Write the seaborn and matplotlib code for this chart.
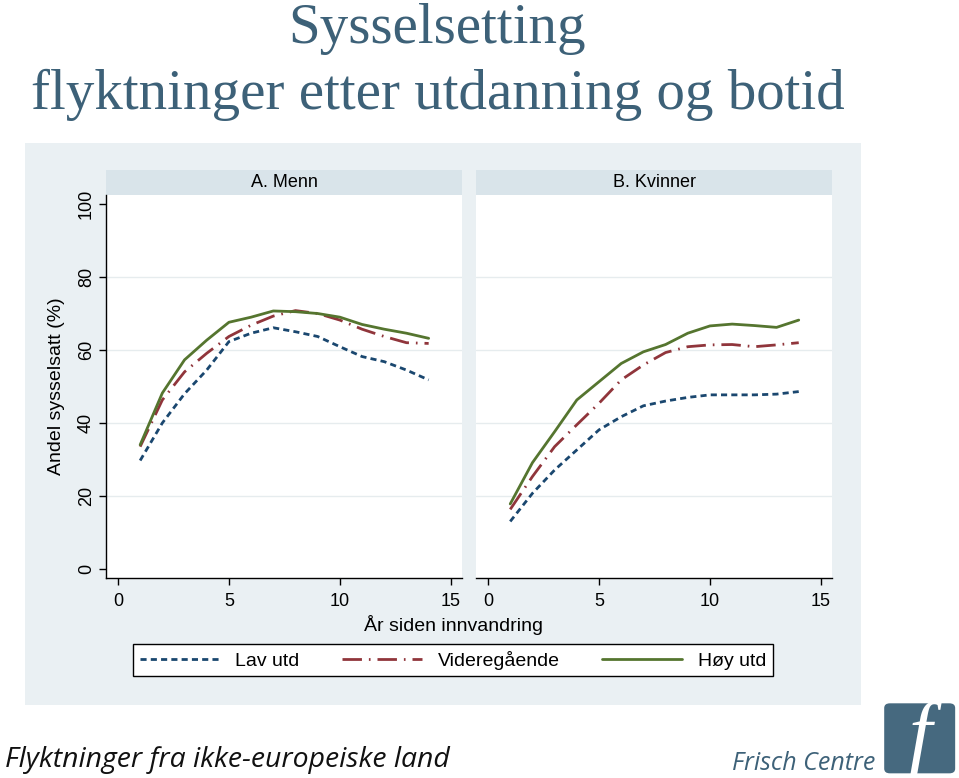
import matplotlib
matplotlib.use('Agg')
import matplotlib.pyplot as plt
import seaborn as sns
import pandas as pd
from matplotlib.lines import Line2D
from matplotlib.patches import Rectangle, FancyBboxPatch

# data
ar = list(range(1, 15))

menn_lav = [29.7, 40.0, 48.0, 54.5, 62.3, 64.6, 66.1, 65.0, 63.7, 60.9, 58.2, 56.8, 54.5, 51.8]
menn_vgs = [33.5, 46.3, 54.0, 59.1, 63.7, 66.8, 69.3, 70.8, 70.0, 68.2, 65.7, 63.7, 62.0, 61.8]
menn_hoy = [34.0, 48.2, 57.3, 62.7, 67.6, 69.0, 70.7, 70.5, 70.0, 69.0, 67.0, 65.7, 64.6, 63.2]

kvinner_lav = [13.0, 20.7, 27.1, 32.6, 38.1, 41.7, 44.7, 46.0, 47.0, 47.7, 47.7, 47.7, 47.9, 48.6]
kvinner_vgs = [16.3, 25.3, 33.5, 39.5, 45.4, 51.8, 55.9, 59.3, 60.9, 61.4, 61.5, 60.9, 61.4, 62.0]
kvinner_hoy = [17.8, 29.1, 37.6, 46.3, 51.3, 56.3, 59.5, 61.5, 64.6, 66.6, 67.1, 66.7, 66.2, 68.2]

grupper = ['Lav utd', 'Videregående', 'Høy utd']
paneler = ['A. Menn', 'B. Kvinner']
x_ticks = [0, 5, 10, 15]
y_ticks = [0, 20, 40, 60, 80, 100]

rows = []
for panel, series in zip(paneler, [[menn_lav, menn_vgs, menn_hoy],
                                   [kvinner_lav, kvinner_vgs, kvinner_hoy]]):
    for g, vals in zip(grupper, series):
        for a, v in zip(ar, vals):
            rows.append({'panel': panel, 'utd': g, 'ar': a, 'andel': v})
df = pd.DataFrame(rows)

farger = {'Lav utd': '#1a476f', 'Videregående': '#90353b', 'Høy utd': '#55752f'}
streker = {'Lav utd': (2.2, 1.5), 'Videregående': (7, 2.5, 0.6, 2.5), 'Høy utd': ''}

sns.set_style('white')
plt.rcParams['font.family'] = ['Liberation Sans', 'DejaVu Sans']
plt.rcParams.update({'text.color': 'black', 'axes.labelcolor': 'black',
                     'xtick.color': 'black', 'ytick.color': 'black'})

fig = plt.figure(figsize=(9.59, 7.78), dpi=100)
fig.patch.set_facecolor('white')

# graph region background
bg = Rectangle((0.0261, 0.0938), 0.8717, 0.7224, transform=fig.transFigure,
               facecolor='#eaf0f3', edgecolor='none', zorder=-5)
fig.patches.append(bg)

lefts = [0.1105, 0.4964]
axes = []
for i, (panel, left) in enumerate(zip(paneler, lefts)):
    ax = fig.add_axes([left, 0.2571, 0.3712, 0.4923])
    axes.append(ax)
    sub = df[df['panel'] == panel]
    sns.lineplot(data=sub, x='ar', y='andel', hue='utd', style='utd',
                 palette=farger, dashes=streker, linewidth=2.0, legend=False, ax=ax)
    ax.set_facecolor('white')
    ax.set_xlim(-0.54, 15.5)
    ax.set_ylim(-2.5, 102.5)
    ax.set_xticks(x_ticks)
    ax.set_yticks(y_ticks)
    ax.set_axisbelow(True)
    for yv in y_ticks[1:-1]:
        ax.axhline(yv, color='#e6ecee', linewidth=1, zorder=0)
    ax.grid(False)
    for s in ['top', 'right']:
        ax.spines[s].set_visible(False)
    ax.spines['bottom'].set_color('black')
    ax.spines['bottom'].set_linewidth(1)
    ax.tick_params(axis='x', direction='out', length=5, width=1, color='black',
                   labelsize=13, pad=6, bottom=True)
    if i == 0:
        ax.spines['left'].set_color('black')
        ax.spines['left'].set_linewidth(1)
        ax.tick_params(axis='y', direction='out', length=5, width=1, color='black',
                       labelsize=13, pad=3, left=True)
        for lab in ax.get_yticklabels():
            lab.set_rotation(90)
            lab.set_va('center')
        ax.set_ylabel('Andel sysselsatt (%)', fontsize=14, labelpad=9)
    else:
        ax.spines['left'].set_visible(False)
        ax.tick_params(axis='y', left=False, labelleft=False)
        ax.set_ylabel('')
    ax.set_xlabel('')
    # strip header
    ax.add_patch(Rectangle((0, 1.0), 1, 25 / 383, transform=ax.transAxes,
                           facecolor='#d9e4ea', edgecolor='none', clip_on=False))
    ax.text(0.5, 1.0 + 12.5 / 383, panel, transform=ax.transAxes, ha='center',
            va='center', fontsize=13)

fig.text(0.4724, 1 - 625 / 778, 'År siden innvandring', ha='center', va='center', fontsize=14)

handles = [Line2D([0], [0], color=farger[g], linewidth=2.0,
                  linestyle=(0, streker[g]) if streker[g] else '-') for g in grupper]
leg = fig.legend(handles, grupper, loc='center', bbox_to_anchor=(0.4724, 1 - 660 / 778),
                 ncol=3, fontsize=14, handlelength=4.1, columnspacing=2.2,
                 frameon=True, fancybox=False, borderpad=0.35, handletextpad=0.8,
                 framealpha=1, facecolor='white')
leg.get_frame().set_edgecolor('black')
leg.get_frame().set_linewidth(1)

# titles
tittel_farge = '#3d6178'
fig.text(0.4557, 1 - 29 / 778, 'Sysselsetting', ha='center', va='center',
         fontsize=41, family='Liberation Serif', color=tittel_farge)
fig.text(0.4562, 1 - 95 / 778, 'flyktninger etter utdanning og botid', ha='center',
         va='center', fontsize=41, family='Liberation Serif', color=tittel_farge)

# bottom texts and logo
fig.text(0.005, 1 - 760 / 778, 'Flyktninger fra ikke-europeiske land', ha='left',
         va='center', fontsize=20.4, style='italic', family='Open Sans', color='#111111')
fig.text(0.913, 1 - 763 / 778, 'Frisch Centre', ha='right', va='center',
         fontsize=18, style='italic', family='Open Sans', color=tittel_farge)
fig.patches.append(FancyBboxPatch((0.922, 0.006), 0.074, 0.090, transform=fig.transFigure,
                                  boxstyle='round,pad=0,rounding_size=0.006',
                                  facecolor='#46697f', edgecolor='none'))
fig.text(0.959, 0.050, 'f', ha='center', va='center', fontsize=60, style='italic',
         family='Liberation Serif', color='white')

plt.savefig('out.png', dpi=100)
plt.close()
